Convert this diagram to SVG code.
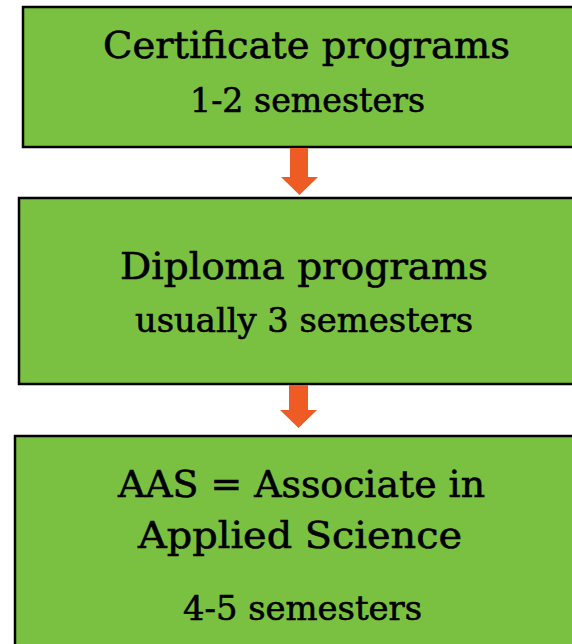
<svg xmlns="http://www.w3.org/2000/svg" width="572" height="644" viewBox="0 0 572 644">
<style>
.box{fill:#7AC142;stroke:#000;stroke-width:2.5}
.t{font-family:"DejaVu Serif","Liberation Serif",serif;fill:#000;stroke:#000;stroke-width:0.6}
.big{font-size:37px}
.small{font-size:33px}
.arrow{fill:#EF5B25}
</style>
<rect width="572" height="644" fill="#fff"/>
<g id="node-certificate">
<rect class="box" x="23" y="7" width="580" height="140"/>
<text class="t big" x="103" y="58" textLength="407" lengthAdjust="spacingAndGlyphs">Certificate programs</text>
<text class="t small" x="190" y="112" textLength="235" lengthAdjust="spacingAndGlyphs">1-2 semesters</text>
</g>
<g id="node-diploma">
<rect class="box" x="19" y="198" width="585" height="186"/>
<text class="t big" x="120" y="279" textLength="368" lengthAdjust="spacingAndGlyphs">Diploma programs</text>
<text class="t small" x="135" y="332" textLength="338" lengthAdjust="spacingAndGlyphs">usually 3 semesters</text>
</g>
<g id="node-aas">
<rect class="box" x="15" y="436" width="590" height="230"/>
<text class="t big" x="118" y="497" textLength="367" lengthAdjust="spacingAndGlyphs">AAS = Associate in</text>
<text class="t big" x="138" y="548" textLength="324" lengthAdjust="spacingAndGlyphs">Applied Science</text>
<text class="t small" x="183" y="620" textLength="239" lengthAdjust="spacingAndGlyphs">4-5 semesters</text>
</g>
<g id="connectors">
<polygon class="arrow" points="290,148 308,148 308,177 318,177 299.5,195 281,177 290,177"/>
<polygon class="arrow" points="289,385 308,385 308,410 317,410 298.5,428 280,410 289,410"/>
</g>
</svg>
